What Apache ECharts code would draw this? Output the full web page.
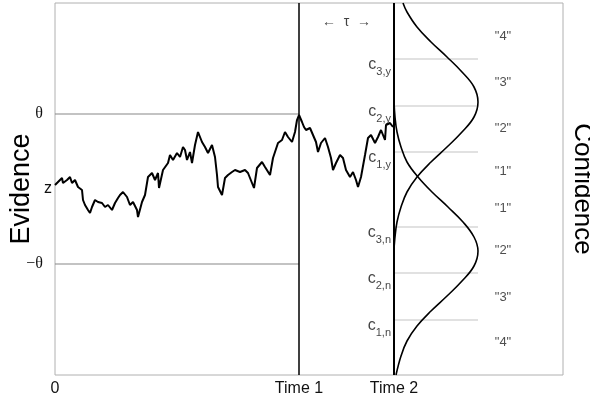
<!DOCTYPE html>
<html>
<head>
<meta charset="utf-8">
<script src="https://cdn.jsdelivr.net/npm/echarts@6/dist/echarts.min.js"></script>
<style>
  html, body { margin: 0; padding: 0; background: #fff; }
  #chart { width: 590px; height: 402px; }
</style>
</head>
<body>
<div id="chart"></div>
<script>
// evidence units: z = 0, bounds at +/- THETA
var THETA = 75
var TIME1 = 244
var TIME2 = 339

// random walk
var pathTime = [0,3,7,8,12,15,17,20,23,27,28,30,33,35,37,40,43,47,50,53,57,60,63,65,68,72,75,78,82,83,87,90,93,97,100,103,104,108,113,115,118,122,125,128,130,132,135,137,140,143,147,150,153,157,160,162,163,167,170,173,177,180,185,190,193,195,199,202,207,210,215,218,223,227,230,233,237,240,242,244,247,249,251,255,258,261,263,266,270,273,276,278,281,285,288,291,295,298,301,303,306,310,313,316,320,323,326,330,331,335,338]
var pathEvidence = [4,7,11,6,9,12,6,9,2,-1,-11,-16,-21,-24,-18,-11,-13,-14,-18,-16,-21,-14,-9,-6,-3,-8,-16,-13,-21,-28,-13,-6,12,16,9,16,1,19,26,34,29,36,32,42,39,29,37,26,44,57,47,42,36,44,32,14,2,-6,11,14,17,19,17,19,16,16,1,21,27,22,14,31,46,49,57,52,47,57,69,74,67,62,59,61,54,47,37,46,51,42,31,19,26,34,31,19,12,17,9,2,12,34,51,54,46,52,59,49,64,66,62]

// confidence distributions at Time 2 (density drawn to the right of the line)
var yesEvidence = [186,177,162,147,132,117,102,87,72,57,42,27,12,-3,-18,-33,-48,-63,-90]
var yesDensity = [9,13,23,37,53,68,80,84,80,68,53,37,23,13,7,3,1,0,0]
var noEvidence = [88,72,57,42,27,12,-3,-18,-33,-48,-62,-77,-92,-107,-122,-137,-152,-167,-186]
var noDensity = [0,1,3,7,13,24,38,54,69,80,84,80,68,53,37,23,13,7,2]

// confidence criteria
var critValues = [130, 83, 37, -38, -84, -131]
var critNames = ['3,y', '2,y', '1,y', '3,n', '2,n', '1,n']
var critEnd = 423

var ratingLabels = ['"4"', '"3"', '"2"', '"1"', '"1"', '"2"', '"3"', '"4"']
var ratingEvidence = [153, 107, 61, 18, -19, -61, -108, -153]
var ratingTime = 448

var xTickValues = [0, TIME1, TIME2]
var xTickLabels = ['0', 'Time 1', 'Time 2']
var yTickValues = [THETA, 0, -THETA]
var yTickLabels = ['{s|θ}', '{z|z}', '{s|\u2212θ}']

var myChart = echarts.init(document.getElementById('chart'))

function zip(a, b) {
    return a.map(function(v, i) { return [v, b[i]] })
}

var series = []

// bounds
;[THETA, -THETA].forEach(function(v) {
    series.push({
        type: 'line', silent: true, symbol: 'none',
        lineStyle: { color: '#888', width: 1.2 },
        data: [[0, v], [TIME1, v]]
    })
})

// criteria
critValues.forEach(function(v) {
    series.push({
        type: 'line', silent: true, symbol: 'none',
        lineStyle: { color: '#c4c4c4', width: 1.2 },
        data: [[TIME2, v], [critEnd, v]]
    })
})

// time markers
series.push({
    type: 'line', symbol: 'none', lineStyle: { color: '#000', width: 1.5 },
    data: [[TIME1, -186], [TIME1, 186]]
})
series.push({
    type: 'line', symbol: 'none', lineStyle: { color: '#000', width: 2 },
    data: [[TIME2, -186], [TIME2, 186]]
})

// evidence path
series.push({
    type: 'line', symbol: 'none', lineStyle: { color: '#000', width: 2 },
    data: zip(pathTime, pathEvidence)
})

// distributions
series.push({
    type: 'line', symbol: 'none', smooth: 0.4, lineStyle: { color: '#000', width: 1.6 },
    data: yesDensity.map(function(d, i) { return [TIME2 + d, yesEvidence[i]] })
})
series.push({
    type: 'line', symbol: 'none', smooth: 0.4, lineStyle: { color: '#000', width: 1.6 },
    data: noDensity.map(function(d, i) { return [TIME2 + d, noEvidence[i]] })
})

// criterion labels
series.push({
    type: 'scatter', symbolSize: 0, silent: true,
    data: critValues.map(function(v, i) { return { value: [TIME2, v], name: critNames[i] } }),
    label: {
        show: true, position: 'left', distance: 3, offset: [0, 6],
        formatter: function(p) { return '{c|c}{s|' + p.name + '}' },
        rich: {
            c: { fontSize: 16, color: '#111', fontFamily: 'Liberation Sans' },
            s: { fontSize: 11, color: '#111', fontFamily: 'Liberation Sans', padding: [14, 0, 0, 0] }
        }
    }
})

// rating labels
series.push({
    type: 'scatter', symbolSize: 0, silent: true,
    data: ratingEvidence.map(function(v, i) { return { value: [ratingTime, v], name: ratingLabels[i] } }),
    label: {
        show: true, position: 'inside', formatter: '{b}',
        fontSize: 13, color: '#222', fontFamily: 'Liberation Sans'
    }
})

// tau
series.push({
    type: 'scatter', symbolSize: 0, silent: true,
    data: [{ value: [(TIME1 + TIME2) / 2, 167], name: '\u2190  τ  \u2192' }],
    label: { show: true, position: 'inside', formatter: '{b}', fontSize: 14, color: '#111', fontFamily: 'Liberation Sans' }
})

var option = {
    animation: false,
    grid: {
        left: 55, right: 27, top: 3, bottom: 27,
        outerBoundsMode: 'none',
        show: true, borderColor: '#b0b0b0', borderWidth: 1
    },
    xAxis: {
        type: 'value', min: 0, max: 508,
        axisLine: { show: false }, axisTick: { show: false }, splitLine: { show: false },
        axisLabel: {
            customValues: xTickValues, margin: 6,
            fontSize: 16, color: '#111', fontFamily: 'Liberation Sans',
            formatter: function(v) { return xTickLabels[xTickValues.indexOf(v)] }
        }
    },
    yAxis: [{
        type: 'value', min: -186, max: 186,
        name: 'Evidence', nameLocation: 'middle', nameGap: 20, nameRotate: 90,
        nameMoveOverlap: false,
        nameTextStyle: { fontSize: 27, color: '#000', fontFamily: 'Liberation Sans' },
        axisLine: { show: false }, axisTick: { show: false }, splitLine: { show: false },
        axisLabel: {
            customValues: yTickValues, margin: 2,
            formatter: function(v) { return yTickLabels[yTickValues.indexOf(v)] },
            rich: {
                s: { fontSize: 16, color: '#111', fontFamily: 'Liberation Serif', padding: [0, 10, 0, 0] },
                z: { fontSize: 16, color: '#111', fontFamily: 'Liberation Sans', padding: [0, 1, 0, 0] }
            }
        }
    }, {
        type: 'value', min: -186, max: 186, position: 'right',
        name: 'Confidence', nameLocation: 'middle', nameGap: 6, nameRotate: -90,
        nameMoveOverlap: false,
        nameTextStyle: { fontSize: 26, color: '#000', fontFamily: 'Liberation Sans' },
        axisLine: { show: false }, axisTick: { show: false }, splitLine: { show: false },
        axisLabel: { show: false }
    }],
    series: series
}

myChart.setOption(option)
</script>
</body>
</html>
